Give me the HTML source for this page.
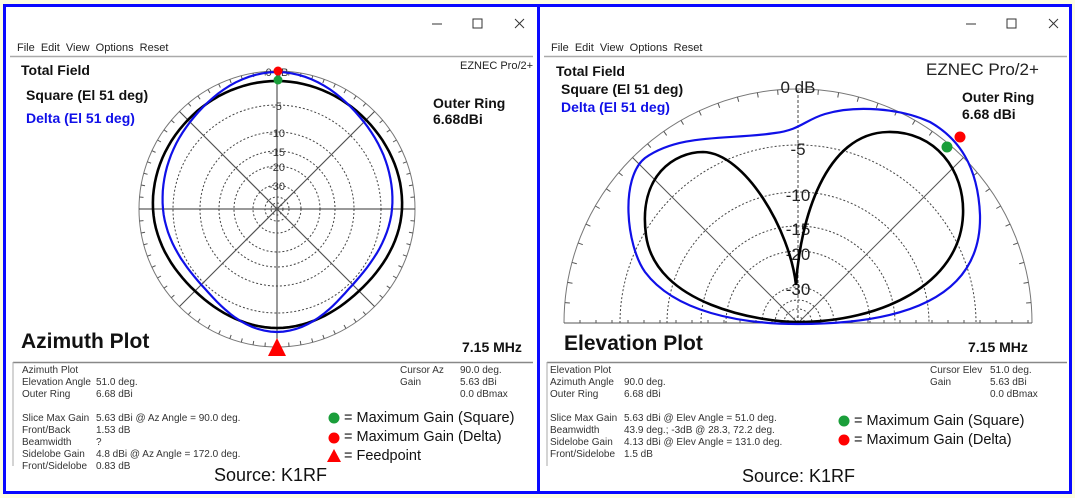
<!DOCTYPE html>
<html><head><meta charset="utf-8"><style>
body{margin:0;width:1075px;height:498px;background:#fdfde2;overflow:hidden;position:relative;font-family:"Liberation Sans",sans-serif}
.p{position:absolute;border:3px solid #0a0aff;background:#fff;box-sizing:border-box}
.t{position:absolute;white-space:nowrap}
.b{font-weight:bold;font-size:14px;color:#111}
.s{font-size:10px;color:#333;line-height:12px}
.lg{font-size:14.5px;color:#111}
</style></head><body>
<div class="p" style="left:3px;top:4px;width:537px;height:490px"></div>
<div class="p" style="left:537px;top:4px;width:535px;height:490px"></div>
<svg id="sv" width="1075" height="498" style="position:absolute;left:0;top:0" font-family="Liberation Sans, sans-serif"></svg>
<div id="tx"></div>
<script>
var sv=document.getElementById('sv'),NS='http://www.w3.org/2000/svg',h='';
function ln(a,b,c,d,col,w,da){h+='<line x1="'+a+'" y1="'+b+'" x2="'+c+'" y2="'+d+'" stroke="'+col+'" stroke-width="'+w+'"'+(da?' stroke-dasharray="'+da+'"':'')+'/>';}
function tx(x,y,s,size,col,wt,anch){h+='<text x="'+x+'" y="'+y+'" font-size="'+size+'" fill="'+col+'"'+(wt?' font-weight="bold"':'')+(anch?' text-anchor="'+anch+'"':'')+'>'+s+'</text>';}
[[8,533],[542,1067]].forEach(function(w){
 var o=w[0];
 ln(o+424,24,o+434,24,'#333',1);
 h+='<rect x="'+(o+465)+'" y="19" width="9" height="9" fill="none" stroke="#333"/>';
 ln(o+507,19,o+516,28,'#333',1);ln(o+516,19,o+507,28,'#333',1);
 tx(o+9,51,'File&#160;&#160;Edit&#160;&#160;View&#160;&#160;Options&#160;&#160;Reset',11,'#222');
 ln(o+2,56.5,w[1],56.5,'#aaa',1.5);
 ln(o+5,362.5,w[1],362.5,'#888',1.5);
 ln(o+5,362,o+5,466,'#aaa',1);
});
var cx=277,cy=209,R=138;
[104,77,58,43,24,12,6].forEach(function(r){h+='<circle cx="'+cx+'" cy="'+cy+'" r="'+r+'" fill="none" stroke="#444" stroke-width="1" stroke-dasharray="2,2"/>';});
h+='<circle cx="'+cx+'" cy="'+cy+'" r="'+R+'" fill="none" stroke="#777" stroke-width="1"/>';
for(var a=0;a<360;a+=5){var c=Math.cos(a*Math.PI/180),s=Math.sin(a*Math.PI/180);
 if(a%45==0){ln(cx+R*c,cy+R*s,cx-R*c,cy-R*s,a%90==0?'#333':'#555',1);} else ln(cx+R*c,cy+R*s,cx+(R-4)*c,cy+(R-4)*s,'#555',1);}
[['0 dB',76],['-5',110],['-10',137],['-15',156],['-20',171],['-30',190]].forEach(function(l){tx(cx,l[1],l[0],11,'#333',0,'middle');});
function polar(pts,col,w){
 var n=pts.length,d='';
 for(var i=0;i<=360;i+=3){var f=i/45,k=Math.floor(f)%n,t=f-Math.floor(f);
  var p0=pts[(k-1+n)%n],p1=pts[k],p2=pts[(k+1)%n],p3=pts[(k+2)%n];
  var r=0.5*((2*p1)+(-p0+p2)*t+(2*p0-5*p1+4*p2-p3)*t*t+(-p0+3*p1-3*p2+p3)*t*t*t);
  var an=i*Math.PI/180;d+=(i?'L':'M')+(cx+r*Math.sin(an)).toFixed(1)+','+(cy-r*Math.cos(an)).toFixed(1);}
 h+='<path d="'+d+'Z" fill="none" stroke="'+col+'" stroke-width="'+w+'"/>';}
polar([128,126,125,116,119,116,124,126],'#000',2.6);
polar([137,123,115,107,123,107,114,123],'#1010e8',2.2);
h+='<circle cx="278" cy="71" r="4.5" fill="#f00"/><circle cx="278" cy="80" r="4.5" fill="#1a9e3a"/>';
h+='<polygon points="277,338 268,356 286,356" fill="#f00"/>';
cx=798;cy=323;R=234;
[178,131,97,72,36,23,14,6].forEach(function(r){h+='<path d="M'+(cx-r)+','+cy+' A'+r+','+r+' 0 0 1 '+(cx+r)+','+cy+'" fill="none" stroke="#444" stroke-dasharray="2,2"/>';});
h+='<path d="M'+(cx-R)+','+cy+' A'+R+','+R+' 0 0 1 '+(cx+R)+','+cy+'" fill="none" stroke="#777"/>';
ln(cx-R,cy,cx+R,cy,'#555',1);
for(var a=0;a<=180;a+=5){var c=Math.cos(a*Math.PI/180),s=Math.sin(a*Math.PI/180);
 if(a==45||a==135)ln(cx,cy,cx+R*c,cy-R*s,'#555',1);else if(a==90)ln(cx,cy,cx,cy-R,'#444',1,'3,2');else ln(cx+R*c,cy-R*s,cx+(R-5)*c,cy-(R-5)*s,'#555',1);}
for(var x=cx-R+16;x<cx+R;x+=16)ln(x,cy,x,cy-3,'#555',1);
[['0 dB',93],['-5',155],['-10',201],['-15',235],['-20',260],['-30',295]].forEach(function(l){tx(cx,l[1],l[0],17,'#222',0,'middle');});
h+='<path d="M798,322 C760,322 655,305 646,235 C638,175 675,152 703,152 C745,153 790,230 796,285 C800,220 825,133 888,132 C935,131 965,170 963,215 C960,285 880,322 798,322Z" fill="none" stroke="#000" stroke-width="2.6"/>';
h+='<path d="M798,324 C900,324 982,300 980,215 C978,165 958,138 930,122 C900,108 855,105 825,114 C805,120 800,130 775,133 C730,140 680,133 645,158 C620,178 626,245 645,272 C675,312 740,324 798,324Z" fill="none" stroke="#1010e8" stroke-width="2.2"/>';
h+='<circle cx="960" cy="137" r="5.5" fill="#f00"/><circle cx="947" cy="147" r="5.5" fill="#1a9e3a"/>';
h+='<circle cx="334" cy="418" r="5.5" fill="#1a9e3a"/><circle cx="334" cy="438" r="5.5" fill="#f00"/><polygon points="334,449 327,462 341,462" fill="#f00"/>';
h+='<circle cx="844" cy="421" r="5.5" fill="#1a9e3a"/><circle cx="844" cy="440" r="5.5" fill="#f00"/>';
sv.innerHTML=h;
</script>
<div class="t b" style="left:21px;top:62px">Total Field</div>
<div class="t b" style="left:26px;top:87px">Square (El 51 deg)</div>
<div class="t b" style="left:26px;top:110px;color:#1010e8">Delta (El 51 deg)</div>
<div class="t" style="left:460px;top:60px;font-size:11px;color:#222">EZNEC Pro/2+</div>
<div class="t b" style="left:433px;top:95px">Outer Ring<br>6.68dBi</div>
<div class="t" style="left:21px;top:330px;font-size:21px;font-weight:bold;color:#111">Azimuth Plot</div>
<div class="t b" style="left:462px;top:339px">7.15 MHz</div>
<div class="t s" style="left:22px;top:365px">Azimuth Plot<br>Elevation Angle<br>Outer Ring<br><br>Slice Max Gain<br>Front/Back<br>Beamwidth<br>Sidelobe Gain<br>Front/Sidelobe</div>
<div class="t s" style="left:96px;top:365px"><br>51.0 deg.<br>6.68 dBi<br><br>5.63 dBi @ Az Angle = 90.0 deg.<br>1.53 dB<br>?<br>4.8 dBi @ Az Angle = 172.0 deg.<br>0.83 dB</div>
<div class="t s" style="left:400px;top:365px">Cursor Az<br>Gain</div>
<div class="t s" style="left:460px;top:365px">90.0 deg.<br>5.63 dBi<br>0.0 dBmax</div>
<div class="t lg" style="left:344px;top:409px;line-height:19px">= Maximum Gain (Square)<br>= Maximum Gain (Delta)<br>= Feedpoint</div>
<div class="t" style="left:214px;top:465px;font-size:18px;color:#111">Source: K1RF</div>
<div class="t b" style="left:556px;top:63px">Total Field</div>
<div class="t b" style="left:561px;top:81px">Square (El 51 deg)</div>
<div class="t b" style="left:561px;top:99px;color:#1010e8">Delta (El 51 deg)</div>
<div class="t" style="left:926px;top:60px;font-size:17px;color:#222">EZNEC Pro/2+</div>
<div class="t b" style="left:962px;top:89px;line-height:17px">Outer Ring<br>6.68 dBi</div>
<div class="t" style="left:564px;top:332px;font-size:21px;font-weight:bold;color:#111">Elevation Plot</div>
<div class="t b" style="left:968px;top:339px">7.15 MHz</div>
<div class="t s" style="left:550px;top:365px">Elevation Plot<br>Azimuth Angle<br>Outer Ring<br><br>Slice Max Gain<br>Beamwidth<br>Sidelobe Gain<br>Front/Sidelobe</div>
<div class="t s" style="left:624px;top:365px"><br>90.0 deg.<br>6.68 dBi<br><br>5.63 dBi @ Elev Angle = 51.0 deg.<br>43.9 deg.; -3dB @ 28.3, 72.2 deg.<br>4.13 dBi @ Elev Angle = 131.0 deg.<br>1.5 dB</div>
<div class="t s" style="left:930px;top:365px">Cursor Elev<br>Gain</div>
<div class="t s" style="left:990px;top:365px">51.0 deg.<br>5.63 dBi<br>0.0 dBmax</div>
<div class="t lg" style="left:854px;top:412px;line-height:19px">= Maximum Gain (Square)<br>= Maximum Gain (Delta)</div>
<div class="t" style="left:742px;top:466px;font-size:18px;color:#111">Source: K1RF</div>
</body></html>
